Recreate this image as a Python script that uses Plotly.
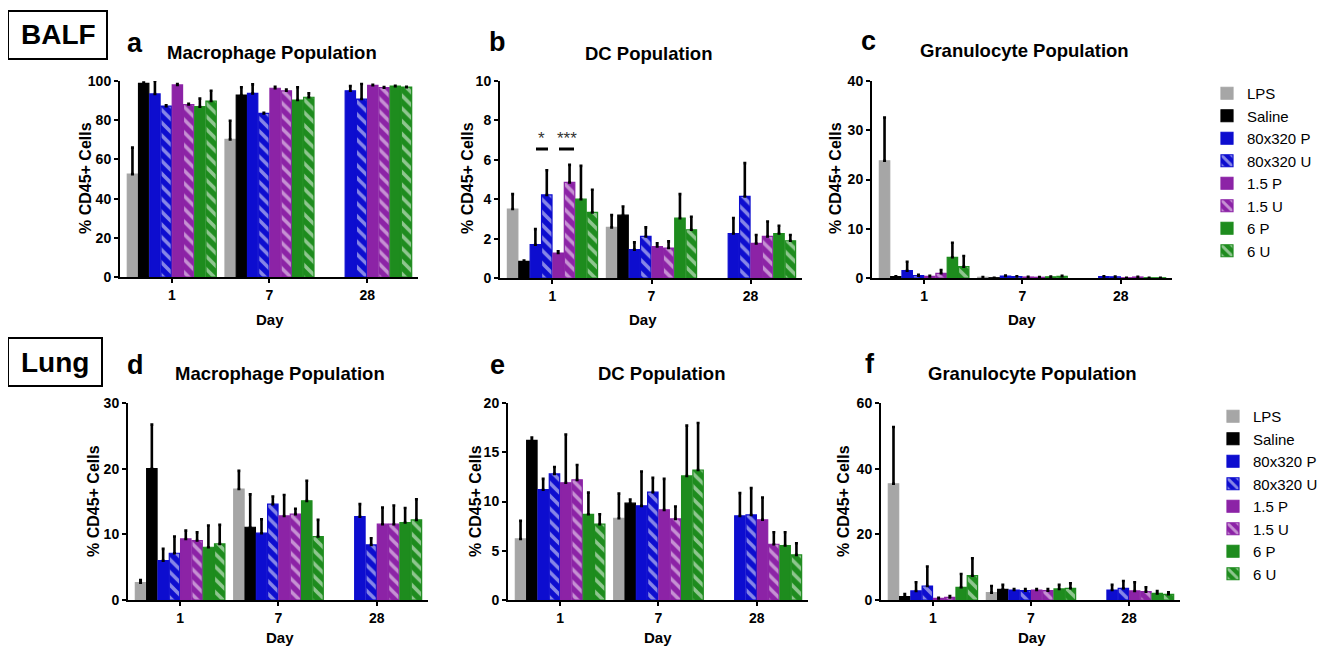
import plotly.graph_objects as go
from plotly.subplots import make_subplots

days = ["1", "7", "28"]
series = ["LPS", "Saline", "80x320 P", "80x320 U", "1.5 P", "1.5 U", "6 P", "6 U"]
colors = ["#a6a6a6", "#000000", "#0d0dcf", "#0d0dcf", "#8c23a6", "#8c23a6", "#1e8c1e", "#1e8c1e"]
striped = [False, False, False, True, False, True, False, True]

# BALF macrophage (a)
a_means = [[52.5, 70.2, None], [98.8, 92.8, None], [93.4, 93.7, 95.0], [87.2, 83.5, 90.8],
           [98.0, 96.3, 97.8], [88.0, 95.0, 96.6], [86.9, 90.3, 97.4], [89.8, 91.7, 96.9]]
a_err = [[13.5, 9.5, None], [0.4, 4.0, None], [6.6, 4.6, 2.4], [0.4, 0.3, 7.7],
         [0.4, 0.7, 0.3], [0.4, 0.7, 0.3], [4.1, 6.5, 0.2], [5.2, 2.0, 0.2]]
# BALF DC (b)
b_means = [[3.5, 2.57, None], [0.84, 3.19, None], [1.69, 1.44, 2.26], [4.22, 2.11, 4.14],
           [1.27, 1.6, 1.76], [4.85, 1.52, 2.11], [4.0, 3.04, 2.26], [3.33, 2.45, 1.89]]
b_err = [[0.76, 0.62, None], [0.05, 0.44, None], [0.79, 0.37, 0.78], [1.25, 0.46, 1.69],
         [0.08, 0.16, 0.42], [0.89, 0.34, 0.76], [1.69, 1.22, 0.39], [1.15, 0.66, 0.29]]
# BALF granulocyte (c)
c_means = [[23.8, 0.15, None], [0.27, 0.05, None], [1.5, 0.4, 0.3], [0.47, 0.3, 0.25],
           [0.34, 0.2, 0.05], [0.95, 0.15, 0.2], [4.2, 0.25, 0.05], [2.3, 0.35, 0.05]]
c_err = [[8.8, 0.05, None], [0.1, 0.0, None], [1.8, 0.1, 0.05], [0.2, 0.05, 0.05],
         [0.1, 0.05, 0.0], [0.65, 0.05, 0.05], [2.96, 0.05, 0.0], [2.16, 0.1, 0.0]]
# Lung macrophage (d)
d_means = [[2.64, 16.9, None], [20.0, 11.08, None], [6.0, 10.17, 12.7], [7.12, 14.6, 8.39],
           [9.3, 12.8, 11.54], [9.05, 13.07, 11.54], [8.03, 15.1, 11.8], [8.54, 9.66, 12.2]]
d_err = [[0.41, 2.77, None], [6.7, 5.0, None], [1.78, 2.13, 1.9], [2.54, 1.16, 1.01],
         [1.27, 3.2, 2.54], [1.25, 0.83, 2.86], [3.31, 3.05, 2.2], [2.9, 2.54, 3.15]]
# Lung DC (e)
e_means = [[6.2, 8.3, None], [16.2, 9.83, None], [11.2, 9.56, 8.54], [12.8, 10.95, 8.64],
           [11.9, 9.15, 8.14], [12.2, 8.24, 5.66], [8.7, 12.6, 5.53], [7.7, 13.2, 4.58]]
e_err = [[1.83, 2.5, None], [0.3, 0.37, None], [1.1, 3.49, 2.31], [0.7, 1.45, 2.72],
         [4.9, 3.15, 2.26], [1.5, 1.26, 1.22], [2.2, 5.1, 1.35], [1.0, 4.77, 1.18]]
# Lung granulocyte (f)
f_means = [[35.4, 2.24, None], [1.0, 3.26, None], [2.75, 3.05, 3.05], [4.27, 2.85, 3.56],
           [0.5, 3.05, 2.75], [0.8, 2.85, 2.54], [3.87, 3.36, 2.03], [7.4, 3.56, 1.73]]
f_err = [[17.3, 2.03, None], [0.8, 1.34, None], [2.65, 0.31, 1.55], [5.93, 0.51, 2.24],
         [0.2, 0.31, 2.65], [0.4, 0.5, 1.33], [4.03, 1.24, 0.72], [5.3, 1.54, 0.61]]

panel_titles = ["Macrophage Population", "DC Population", "Granulocyte Population",
                "Macrophage Population", "DC Population", "Granulocyte Population"]
panel_letters = ["a", "b", "c", "d", "e", "f"]
y_ranges = [[0, 100], [0, 10], [0, 40], [0, 30], [0, 20], [0, 60]]
y_dticks = [20, 2, 10, 10, 5, 20]
y_title = "% CD45+ Cells"
x_title = "Day"

FONT = "Liberation Sans, Arial, sans-serif"
OFF = 8                      # page body margin of the browser
W, H = 1325 - OFF, 647 - OFF  # figure fits the window after the body margin


def X(px):
    return (px - OFF) / W


def Y(py):
    return 1 - (py - OFF) / H


# screen-pixel layout of each plot area: (x0, x1, ytop, ybottom)
boxes = [(120, 418, 81, 277), (500, 802, 81, 278), (872, 1172, 81, 278),
         (128, 428, 403, 600), (508, 808, 403, 600), (881, 1180, 403, 600)]

fig = make_subplots(rows=2, cols=3)

data = [(a_means, a_err), (b_means, b_err), (c_means, c_err),
        (d_means, d_err), (e_means, e_err), (f_means, f_err)]

for p, (means, errs) in enumerate(data):
    r, c = p // 3 + 1, p % 3 + 1
    for i, name in enumerate(series):
        col = colors[i]
        marker = dict(color=col, line=dict(color=col, width=1.2))
        if striped[i]:
            marker["pattern"] = dict(shape="\\", fgcolor="white", bgcolor=col,
                                     fillmode="overlay", size=9, solidity=0.4)
        if p == 2:
            leg = dict(showlegend=True, legend="legend")
        elif p == 5:
            leg = dict(showlegend=True, legend="legend2")
        else:
            leg = dict(showlegend=False)
        fig.add_trace(go.Bar(
            x=days, y=means[i], name=name, marker=marker,
            error_y=dict(type="data", symmetric=False, array=errs[i],
                         arrayminus=[0, 0, 0], color="black", thickness=2.6, width=1.5),
            **leg), row=r, col=c)

for p, (x0, x1, yt, yb) in enumerate(boxes):
    axn = "" if p == 0 else str(p + 1)
    fig.layout["xaxis" + axn].update(
        domain=[X(x0), X(x1)], type="category", range=[-0.53, 2.52],
        showline=True, linecolor="black", linewidth=2, ticks="outside", ticklen=4,
        tickwidth=2, tickcolor="black", showgrid=False, zeroline=False,
        tickfont=dict(family=FONT, size=14, color="black", weight="bold"))
    fig.layout["yaxis" + axn].update(
        domain=[Y(yb), Y(yt)], range=y_ranges[p], dtick=y_dticks[p],
        showline=True, linecolor="black", linewidth=2, ticks="outside", ticklen=4,
        tickwidth=2, tickcolor="black", showgrid=False, zeroline=False,
        tickfont=dict(family=FONT, size=14, color="black", weight="bold"))

annotations = []
title_pos = [(272, 52), (648, 53), (1024, 51), (280, 373), (661, 373), (1032, 373)]
letter_pos = [(135, 43), (497, 42), (868, 41), (135, 365), (497, 365), (870, 364)]
ytitle_pos = [(85, 178), (467, 178), (835, 178), (93, 501), (475, 501), (843, 501)]
xtitle_pos = [(270, 320), (643, 320), (1022, 320), (280, 637), (658, 637), (1032, 637)]
for p in range(6):
    tx, ty = title_pos[p]
    annotations.append(dict(x=X(tx), y=Y(ty), xref="paper", yref="paper",
                            text="<b>" + panel_titles[p] + "</b>", showarrow=False,
                            font=dict(family=FONT, size=18.5, color="black"),
                            xanchor="center", yanchor="middle"))
    lx, ly = letter_pos[p]
    annotations.append(dict(x=X(lx), y=Y(ly), xref="paper", yref="paper",
                            text="<b>" + panel_letters[p] + "</b>", showarrow=False,
                            font=dict(family=FONT, size=27, color="black"),
                            xanchor="center", yanchor="middle"))
    vx, vy = ytitle_pos[p]
    annotations.append(dict(x=X(vx), y=Y(vy), xref="paper", yref="paper",
                            text="<b>" + y_title + "</b>", showarrow=False, textangle=-90,
                            font=dict(family=FONT, size=16, color="black"),
                            xanchor="center", yanchor="middle"))
    hx, hy = xtitle_pos[p]
    annotations.append(dict(x=X(hx), y=Y(hy), xref="paper", yref="paper",
                            text="<b>" + x_title + "</b>", showarrow=False,
                            font=dict(family=FONT, size=15, color="black"),
                            xanchor="center", yanchor="middle"))

# section labels
annotations.append(dict(x=X(58), y=Y(35), xref="paper", yref="paper", text="<b>BALF</b>",
                        showarrow=False, font=dict(family=FONT, size=28, color="black"),
                        xanchor="center", yanchor="middle"))
annotations.append(dict(x=X(55), y=Y(362), xref="paper", yref="paper", text="<b>Lung</b>",
                        showarrow=False, font=dict(family=FONT, size=28, color="black"),
                        xanchor="center", yanchor="middle"))

# significance marks in panel b
annotations.append(dict(x=X(541.5), y=Y(139), xref="paper", yref="paper", text="*",
                        showarrow=False, font=dict(family=FONT, size=17, color="#333333"),
                        xanchor="center", yanchor="middle"))
annotations.append(dict(x=X(566.5), y=Y(139), xref="paper", yref="paper", text="***",
                        showarrow=False, font=dict(family=FONT, size=17, color="#333333"),
                        xanchor="center", yanchor="middle"))

shapes = [
    dict(type="rect", xref="paper", yref="paper", x0=X(8), x1=X(107), y0=Y(59), y1=Y(11),
         line=dict(color="black", width=2)),
    dict(type="rect", xref="paper", yref="paper", x0=X(8), x1=X(102), y0=Y(386), y1=Y(338),
         line=dict(color="black", width=2)),
    dict(type="line", xref="paper", yref="paper", x0=X(536), x1=X(548), y0=Y(149), y1=Y(149),
         line=dict(color="black", width=3)),
    dict(type="line", xref="paper", yref="paper", x0=X(559), x1=X(574), y0=Y(149), y1=Y(149),
         line=dict(color="black", width=3)),
]

legend_style = dict(font=dict(family=FONT, size=15, color="black"), bgcolor="rgba(0,0,0,0)",
                    xanchor="left", yanchor="top", tracegroupgap=0, itemwidth=30)

fig.update_layout(
    width=W, height=H, margin=dict(l=0, r=0, t=0, b=0, autoexpand=False),
    paper_bgcolor="white", plot_bgcolor="white",
    barmode="group", bargap=0.08, bargroupgap=0.08,
    font=dict(family=FONT, color="black"),
    annotations=annotations, shapes=shapes,
    legend=dict(x=X(1207), y=Y(77), **legend_style),
    legend2=dict(x=X(1213), y=Y(400), **legend_style),
)

fig.write_html("out.html")
